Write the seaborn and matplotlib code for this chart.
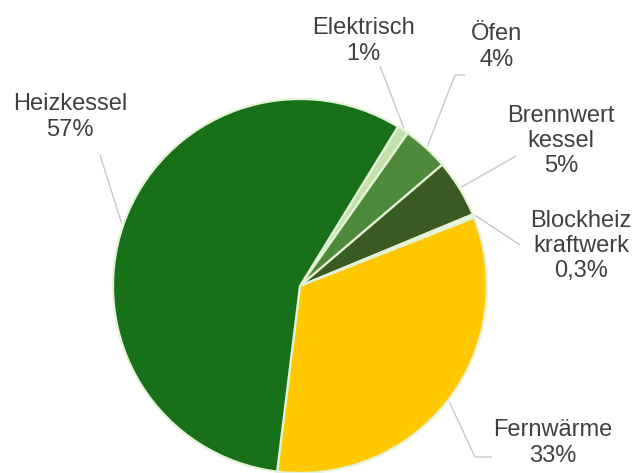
import numpy as np
import matplotlib
matplotlib.use("Agg")
import matplotlib.pyplot as plt
import seaborn as sns

# Heating systems and their shares (clockwise from the top-right)
categories = ["Elektrisch", "Öfen", "Brennwert\nkessel", "Blockheiz\nkraftwerk", "Fernwärme", "Heizkessel"]
shares = [1, 4, 5, 0.3, 33, 57]
share_labels = ["1%", "4%", "5%", "0,3%", "33%", "57%"]
colors = ["#c3e0ad", "#4f8a3c", "#3a5a23", "#f4f9ef", "#ffc800", "#187019"]

# Label placement in pixel units (x right, y down): text centre and leader path
label_pos = [(363, 41), (497, 47), (561, 141), (581, 246), (553, 443), (70, 117)]
leader_path = [
    [(380, 66)],
    [(455, 75), (465, 75)],
    [(516, 156)],
    [(520, 245)],
    [(475, 457), (492, 457)],
    [(100, 155)],
]

W, H = 636, 473
CENTER = (300, 286)
RADIUS = 187

sns.set_theme(style="white")
plt.rcParams["font.family"] = ["Liberation Sans", "DejaVu Sans"]

fig = plt.figure(figsize=(W / 100, H / 100), dpi=100)
ax = fig.add_axes([0, 0, 1, 1])
ax.set_xlim(0, W)
ax.set_ylim(0, H)
ax.set_aspect("equal")
ax.axis("off")


def to_axes(p):
    return p[0], H - p[1]


wedges, _ = ax.pie(
    shares,
    colors=colors,
    startangle=58.4,
    counterclock=False,
    center=to_axes(CENTER),
    radius=RADIUS,
    frame=True,
    wedgeprops=dict(edgecolor="#e4f2d8", linewidth=1.6),
)
ax.set_xlim(0, W)
ax.set_ylim(0, H)
ax.axis("off")

cx, cy = to_axes(CENTER)
for wedge, name, pct, pos, path in zip(wedges, categories, share_labels, label_pos, leader_path):
    mid = np.deg2rad((wedge.theta1 + wedge.theta2) / 2)
    rim = (cx + RADIUS * 1.01 * np.cos(mid), cy + RADIUS * 1.01 * np.sin(mid))
    pts = [rim] + [to_axes(p) for p in path]
    xs, ys = zip(*pts)
    ax.plot(xs, ys, color="#c8c8c8", linewidth=1.0, solid_capstyle="butt", zorder=1)
    tx, ty = to_axes(pos)
    ax.text(tx, ty, f"{name}\n{pct}", ha="center", va="center", fontsize=17,
            color="#404040", linespacing=1.2, multialignment="center")

fig.savefig("out.png", dpi=100)
